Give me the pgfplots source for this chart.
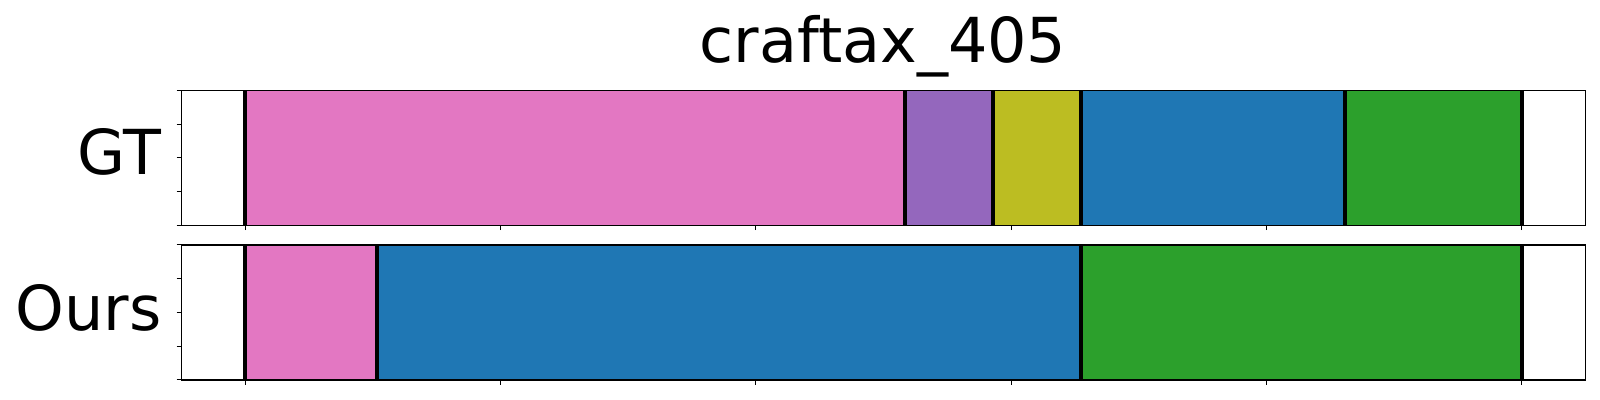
\documentclass[border=0pt]{standalone}
\usepackage{pgfplots}
\pgfplotsset{compat=1.18}
\usepackage{fontspec}
\setmainfont{DejaVu Sans}
\definecolor{tabpink}{HTML}{E377C2}
\definecolor{tabpurple}{HTML}{9467BD}
\definecolor{tabolive}{HTML}{BCBD22}
\definecolor{tabblue}{HTML}{1F77B4}
\definecolor{tabgreen}{HTML}{2CA02C}
\pgfplotsset{
  segaxis/.style={
    scale only axis, width=702.2pt, height=67.5pt,
    xmin=-5, xmax=105, ymin=0, ymax=1,
    xtick={0,20,...,100}, ytick={0,0.25,0.5,0.75,1},
    xticklabels={}, yticklabels={},
    xtick pos=bottom, ytick pos=left,
    tick align=outside, major tick length=2.4pt,
    every tick/.style={black, line width=0.5pt},
    axis line style={black, line width=0.6pt},
    axis on top=true, clip=true,
    anchor=south west,
  },
  seg/.style={fill=#1, draw=#1!90!black, line width=0.3pt},
  bound/.style={ycomb, black, line width=2pt, mark=none},
}
\begin{document}
\begin{tikzpicture}
\useasboundingbox (0,0) rectangle (800pt,200pt);
% GT
\begin{axis}[segaxis, at={(90.65pt,87.35pt)}]
\addplot[seg=tabpink]   coordinates {(0,1) (51.70,1)} \closedcycle;
\addplot[seg=tabpurple] coordinates {(51.70,1) (58.58,1)} \closedcycle;
\addplot[seg=tabolive]  coordinates {(58.58,1) (65.45,1)} \closedcycle;
\addplot[seg=tabblue]   coordinates {(65.45,1) (86.16,1)} \closedcycle;
\addplot[seg=tabgreen]  coordinates {(86.16,1) (100,1)} \closedcycle;
\addplot[bound] coordinates {(0,1) (51.70,1) (58.58,1) (65.45,1) (86.16,1) (100,1)};
\end{axis}
% Ours
\begin{axis}[segaxis, at={(90.65pt,10pt)}]
\addplot[seg=tabpink]  coordinates {(0,1) (10.29,1)} \closedcycle;
\addplot[seg=tabblue]  coordinates {(10.29,1) (65.45,1)} \closedcycle;
\addplot[seg=tabgreen] coordinates {(65.45,1) (100,1)} \closedcycle;
\addplot[bound] coordinates {(0,1) (10.29,1) (65.45,1) (100,1)};
\end{axis}
\node[anchor=base east, inner sep=0pt, font=\fontsize{31}{37}\selectfont] at (81pt,112.85pt) {GT};
\node[anchor=base east, inner sep=0pt, font=\fontsize{31}{37}\selectfont] at (81pt,34.5pt) {Ours};
\node[anchor=base, inner sep=0pt, font=\fontsize{31}{37}\selectfont] at (441.5pt,168.85pt) {craftax\_405};
\end{tikzpicture}
\end{document}
